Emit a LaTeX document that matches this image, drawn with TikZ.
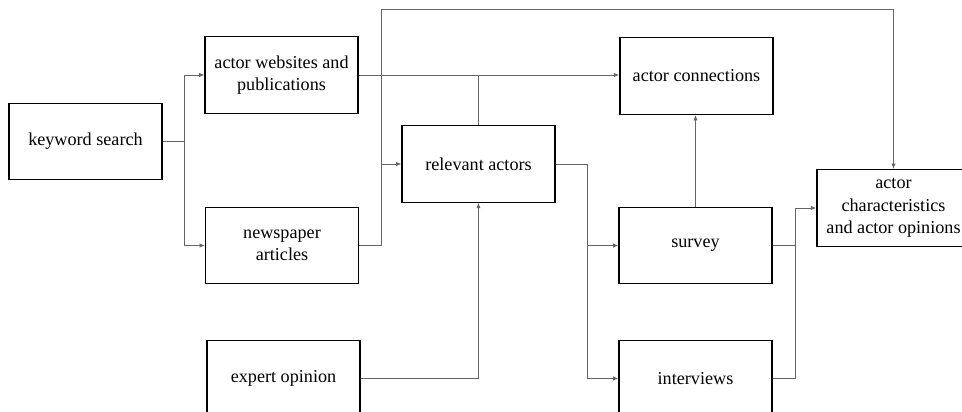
\documentclass[tikz,border=0pt]{standalone}
\usepackage{fontspec}
\setmainfont{Liberation Serif}
\usetikzlibrary{arrows.meta, positioning, calc}

\begin{document}
\begin{tikzpicture}[x=0.3mm, y=-0.3mm, font=\fontsize{15.5}{19}\selectfont,
  box/.style={draw, line width=0.9pt, align=center, inner sep=0pt,
              minimum width=45.9mm, minimum height=23mm},
  boxk/.style={box, line width=1.3pt, draw=black},
  ln/.style={line width=0.7pt, draw=black!60},
  a/.style={ln, -{Latex[length=1.6mm, width=1.3mm]}}]
  \useasboundingbox (0,0) rectangle (962,411);

  \node[box] (kw) at (85.5,141.5) {keyword search};
  \node[box] (web) at (281.5,75) {actor websites and\\publications};
  \node[box] (news) at (282,245.5) {newspaper\\articles};
  \node[box] (exp) at (283.5,378.5) {expert opinion};
  \node[box] (rel) at (478.5,164) {relevant actors};
  \node[boxk] (conn) at (696.5,76) {actor connections};
  \node[box] (surv) at (695.5,245.5) {survey};
  \node[box] (intv) at (695.5,378.5) {interviews};
  \node[boxk] (char) at (893.5,208) {actor\\characteristics\\and actor opinions};

  \coordinate (kwfork) at ($(kw.east)+(22,0)$);
  \coordinate (nfork) at ($(news.east)+(22,0)$);
  \coordinate (rfork) at ($(rel.east)+(32,0)$);
  \coordinate (sfork) at ($(surv.east)+(23,0)$);

  \draw[ln] (kw.east) -- (kwfork);
  \draw[a] (kwfork) |- (web.west);
  \draw[a] (kwfork) |- (news.west);
  \draw[a] (web.east) -- (web.east -| conn.west);
  \draw[ln] (rel.north) -- (rel.north |- web.east);
  \draw[ln] (news.east) -- (nfork);
  \draw[a] (nfork) |- (rel.west);
  \draw[a] (nfork) -- ++(0,-236) -| (char.north);
  \draw[a] (exp.east) -| (rel.south);
  \draw[ln] (rel.east) -- (rfork);
  \draw[a] (rfork) |- (surv.west);
  \draw[a] (rfork) |- (intv.west);
  \draw[a] (surv.north) -- (surv.north |- conn.south);
  \draw[ln] (surv.east) -- (sfork);
  \draw[ln] (intv.east) -| (sfork);
  \draw[a] (sfork) |- (char.west);
\end{tikzpicture}
\end{document}
